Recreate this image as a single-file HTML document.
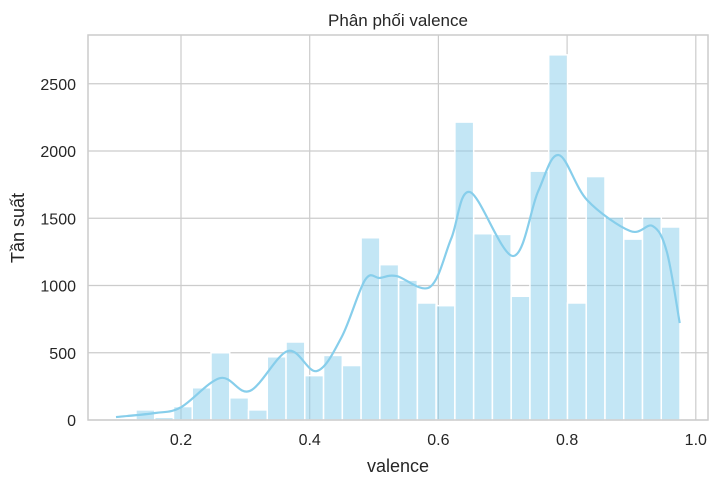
<!DOCTYPE html>
<html><head><meta charset="utf-8"><style>
body{margin:0;background:#fff;}
svg text{font-family:"Liberation Sans","DejaVu Sans",sans-serif;fill:#262626;}
</style></head><body>
<svg id="chart" width="718" height="486"></svg>
<script>
const binStart = 0.13, binEnd = 0.9755;
const counts = [75,20,100,240,500,165,75,470,580,330,480,405,1355,1155,1040,870,850,2215,1385,1380,920,1850,2715,870,1810,1510,1345,1510,1435];
const kdeX = [0.099,0.16,0.2,0.261,0.307,0.366,0.411,0.45,0.486,0.509,0.535,0.587,0.62,0.649,0.716,0.755,0.787,0.831,0.898,0.933,0.955,0.975];
const kdeY = [22,52,95,312,216,513,364,620,1041,1056,1070,989,1350,1695,1219,1700,1970,1636,1405,1442,1250,721];
const xTicks = [0.2,0.4,0.6,0.8,1.0];
const xTickLabels = ["0.2","0.4","0.6","0.8","1.0"];
const yTicks = [0,500,1000,1500,2000,2500];
const yTickLabels = ["0","500","1000","1500","2000","2500"];

const L=88,R=708,T=35,B=420;
const xs=v=>181+(v-0.2)*643.5;
const ys=c=>B-c*0.1345;
const svg=document.getElementById('chart');
const NS='http://www.w3.org/2000/svg';
function mk(tag,attrs,parent){const e=document.createElementNS(NS,tag);for(const k in attrs)e.setAttribute(k,attrs[k]);(parent||svg).appendChild(e);return e;}

// grid
xTicks.forEach((v,i)=>{
  const g=mk('line',{x1:xs(v),x2:xs(v),y1:T,y2:B,stroke:'#cccccc','stroke-width':1.2});
  
  
  const t=mk('text',{x:xs(v),y:445,'text-anchor':'middle','font-size':16});
  t.textContent=xTickLabels[i];
  
  
});
yTicks.forEach((v,i)=>{
  const g=mk('line',{x1:L,x2:R,y1:ys(v),y2:ys(v),stroke:'#cccccc','stroke-width':1.2});
  
  
  const t=mk('text',{x:76,y:ys(v)+6,'text-anchor':'end','font-size':16});
  t.textContent=yTickLabels[i];
  
  
});
// bars
const bw=(binEnd-binStart)/counts.length;
counts.forEach((c,i)=>{
  const x0=xs(binStart+i*bw),x1=xs(binStart+(i+1)*bw);
  const r=mk('rect',{x:x0,y:ys(c),width:x1-x0,height:B-ys(c),fill:'#87ceeb','fill-opacity':0.5,stroke:'#fff','stroke-width':1.5});
  
  
});
// kde (catmull-rom)
const P=kdeX.map((v,i)=>[xs(v),ys(kdeY[i])]);
let d=`M${P[0][0]},${P[0][1]}`;
for(let i=0;i<P.length-1;i++){
  const p0=P[Math.max(0,i-1)],p1=P[i],p2=P[i+1],p3=P[Math.min(P.length-1,i+2)];
  const c1=[p1[0]+(p2[0]-p0[0])/6,p1[1]+(p2[1]-p0[1])/6];
  const c2=[p2[0]-(p3[0]-p1[0])/6,p2[1]-(p3[1]-p1[1])/6];
  d+=` C${c1[0]},${c1[1]} ${c2[0]},${c2[1]} ${p2[0]},${p2[1]}`;
}
const kde=mk('path',{d:d,fill:'none',stroke:'#87ceeb','stroke-width':2.2});


// frame
const f=mk('rect',{x:L,y:T,width:R-L,height:B-T,fill:'none',stroke:'#cccccc','stroke-width':1.5});


</script>
<svg width="718" height="486" style="position:absolute;left:0;top:0">
<text x="398" y="26" text-anchor="middle" font-size="17">Phân phối valence</text>
<text x="398" y="472" text-anchor="middle" font-size="18">valence</text>
<text transform="translate(24,228) rotate(-90)" text-anchor="middle" font-size="18">Tần suất</text>
</svg>
</body></html>
